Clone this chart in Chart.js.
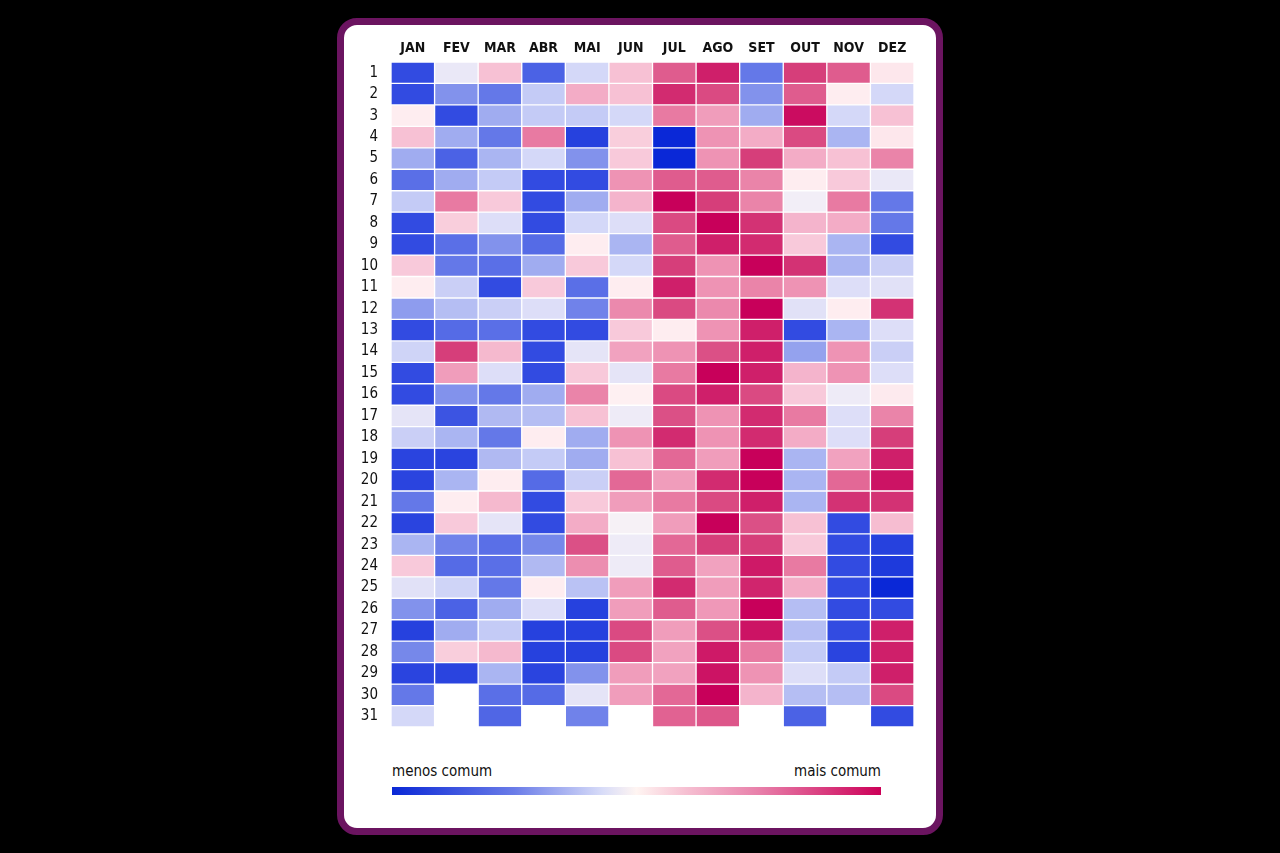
<!DOCTYPE html>
<html>
<head>
<meta charset="utf-8">
<script src="https://cdn.jsdelivr.net/npm/chart.js@4/dist/chart.umd.min.js"></script>
<style>
  html, body { margin: 0; padding: 0; background: #000; width: 1280px; height: 853px; overflow: hidden; }
  #card { position: absolute; left: 337px; top: 18px; width: 592px; height: 803px; border: 7px solid #6b1460; border-radius: 20px; background: #fff; }
  #wrap { position: absolute; left: 345px; top: 25px; width: 580px; height: 710px; }
  .lbl { position: absolute; top: 761px; font-family: "DejaVu Sans Condensed", "Liberation Sans", sans-serif; font-size: 15px; color: #111; line-height: 20px; }
  #lo { left: 392px; }
  #hi { left: 681px; width: 200px; text-align: right; }
  #bar { position: absolute; left: 392px; top: 787px; width: 489px; height: 8px;
    background: linear-gradient(to right, #0a28d6, #6a7ce8 25%, #d8dcf8 43%, #fff5f2 50%, #f6c0d2 60%, #e880aa 75%, #cc0058); }
</style>
</head>
<body>
<div id="card"></div>
<div id="wrap"><canvas id="heat"></canvas></div>
<div class="lbl" id="lo">menos comum</div>
<div class="lbl" id="hi">mais comum</div>
<div id="bar"></div>
<script>
// how common each birth date is: -5 = least common (blue) ... +5 = most common (magenta)
const months = ['JAN', 'FEV', 'MAR', 'ABR', 'MAI', 'JUN', 'JUL', 'AGO', 'SET', 'OUT', 'NOV', 'DEZ'];
const days = Array.from({ length: 31 }, (_, i) => i + 1);

const jan = [-4, -4, 0.3, 1.5, -2, -3.2, -1.3, -4, -4, 1.3, 0.3, -2.3, -4, -1.1, -4, -4, -0.6, -1.2, -4.2, -4.2, -3, -4.2, -1.8, 1.3, -0.7, -2.5, -4.3, -2.7, -4.2, -3, -1];
const fev = [-0.5, -2.5, -4, -2, -3.5, -2, 3, 1.2, -3.2, -3, -1.2, -1.6, -3.3, 4, 2.3, -2.5, -3.8, -1.8, -4.2, -1.8, 0.3, 1.3, -2.8, -3.3, -1.1, -3.5, -2, 1.2, -4.2, null, null];
const mar = [1.5, -3, -2, -3, -1.8, -1.3, 1.3, -0.8, -2.5, -3.2, -4, -1.2, -3.2, 1.7, -0.8, -3, -1.7, -3, -1.7, 0.3, 1.7, -0.6, -3.2, -3.2, -3, -2, -1.3, 1.7, -1.8, -3.2, -3.4];
const abr = [-3.5, -1.3, -1.3, 3, -1, -4, -4, -4, -3.3, -2, 1.3, -0.8, -4, -4, -4, -2, -1.6, 0.3, -1.3, -3.3, -4, -4, -2.7, -1.7, 0.3, -0.8, -4.3, -4.3, -4.2, -3.3, null];
const mai = [-1, 2, -1.3, -4.3, -2.5, -4, -2, -1, 0.3, 1.3, -3.2, -2.8, -4, -0.6, 1.3, 2.8, 1.5, -2, -2, -1.2, 1.3, 2, 3.7, 2.6, -1.5, -4.3, -4.3, -4.3, -2.5, -0.6, -2.8];
const jun = [1.5, 1.5, -1, 1.2, 1.3, 2.5, 1.8, -0.8, -1.8, -1, 0.3, 2.7, 1.3, 2.2, -0.6, 0.2, -0.4, 2.5, 1.5, 3.3, 2.3, -0.2, -0.4, -0.4, 2.3, 2.3, 3.8, 3.8, 2.3, 2.3, null];
const jul = [3.5, 4.3, 3, -5, -5, 3.5, 5, 3.8, 3.5, 4, 4.5, 3.8, 0.3, 2.5, 3, 3.8, 3.7, 4.3, 3.3, 2.3, 3, 2.3, 3.3, 3.5, 4.3, 3.5, 2.3, 2.2, 2.2, 3.3, 3.4];
const ago = [4.5, 3.8, 2.3, 2.5, 2.5, 3.5, 4, 5, 4.5, 2.5, 2.5, 2.7, 2.5, 3.7, 5, 4.5, 2.5, 2.5, 2.3, 4.3, 3.8, 5, 4, 2.2, 2.3, 2.4, 3.7, 4.6, 4.7, 5, 3.6];
const set = [-3, -2.5, -2, 2, 4, 2.8, 2.8, 4.2, 4.3, 5, 2.8, 5, 4.5, 4.5, 4.5, 3.8, 4.3, 4.3, 5, 5, 4.5, 3.7, 4, 4.6, 4.4, 5, 4.7, 3, 2.5, 1.8, null];
const out = [4, 3.5, 4.8, 3.8, 2, 0.3, -0.3, 1.8, 1.3, 4.2, 2.5, -0.7, -4, -2.2, 1.8, 1.3, 3, 2, -1.8, -1.8, -1.8, 1.5, 1.3, 3, 2, -1.6, -1.6, -1.3, -0.8, -1.6, -3.5];
const nov = [3.5, 0.3, -1, -1.8, 1.5, 1.3, 3, 2, -1.8, -1.8, -0.8, 0.3, -1.8, 2.5, 2.5, -0.4, -0.8, -0.8, 2.2, 3.3, 4.2, -4, -4, -4, -4, -4, -4, -4.2, -1.3, -1.6, null];
const dez = [0.5, -1, 1.5, 0.5, 2.8, -0.5, -3, -3, -4, -1.2, -0.7, 4.2, -0.8, -1.2, -0.8, 0.4, 2.8, 4, 4.5, 4.7, 4.2, 1.6, -4.3, -4.5, -5, -4, 4.5, 4.5, 4.5, 3.8, -4];

const byMonth = [jan, fev, mar, abr, mai, jun, jul, ago, set, out, nov, dez];

// diverging colour scale, blue -> white -> magenta
const stops = [
  [10, 40, 215], [50, 75, 225], [100, 120, 232], [160, 172, 240], [212, 216, 248],
  [255, 247, 246],
  [250, 214, 226], [243, 172, 198], [232, 122, 162], [214, 62, 122], [200, 0, 90]
];
function colorFor(v) {
  const t = Math.max(-5, Math.min(5, v)) + 5;
  const i = Math.min(9, Math.floor(t));
  const f = t - i;
  const a = stops[i], b = stops[i + 1];
  const c = a.map((x, k) => Math.round(x + (b[k] - x) * f));
  return `rgb(${c[0]},${c[1]},${c[2]})`;
}

Chart.defaults.font.family = '"DejaVu Sans Condensed", "Liberation Sans", sans-serif';
Chart.defaults.color = '#111';

const datasets = days.map(d => ({
  label: String(d),
  data: byMonth.map(m => m[d - 1] == null ? null : [d - 0.5, d + 0.5]),
  backgroundColor: byMonth.map(m => m[d - 1] == null ? 'rgba(0,0,0,0)' : colorFor(m[d - 1])),
  borderColor: 'rgba(255,255,255,0.55)',
  borderWidth: 1,
  borderSkipped: false,
  grouped: false,
  barPercentage: 1,
  categoryPercentage: 1
}));

new Chart(document.getElementById('heat'), {
  type: 'bar',
  data: { labels: months, datasets: datasets },
  options: {
    responsive: true,
    maintainAspectRatio: false,
    animation: false,
    layout: { padding: { left: 0, right: 11, top: 0, bottom: 8 } },
    plugins: { legend: { display: false }, tooltip: { enabled: false } },
    scales: {
      x: {
        position: 'top',
        grid: { display: false, drawTicks: false },
        border: { display: false },
        ticks: { padding: 5, font: { size: 14, weight: 'bold' }, color: '#111' },
        afterFit: s => { s.height = 37; }
      },
      y: {
        type: 'linear',
        reverse: true,
        min: 0.5,
        max: 31.5,
        grid: { display: false, drawTicks: false },
        border: { display: false },
        afterBuildTicks: s => { s.ticks = days.map(d => ({ value: d })); },
        ticks: { padding: 13, autoSkip: false, font: { size: 15 }, color: '#111', callback: v => v },
        afterFit: s => { s.width = 46; s.paddingTop = 0; s.paddingBottom = 0; }
      }
    }
  }
});
</script>
</body>
</html>
